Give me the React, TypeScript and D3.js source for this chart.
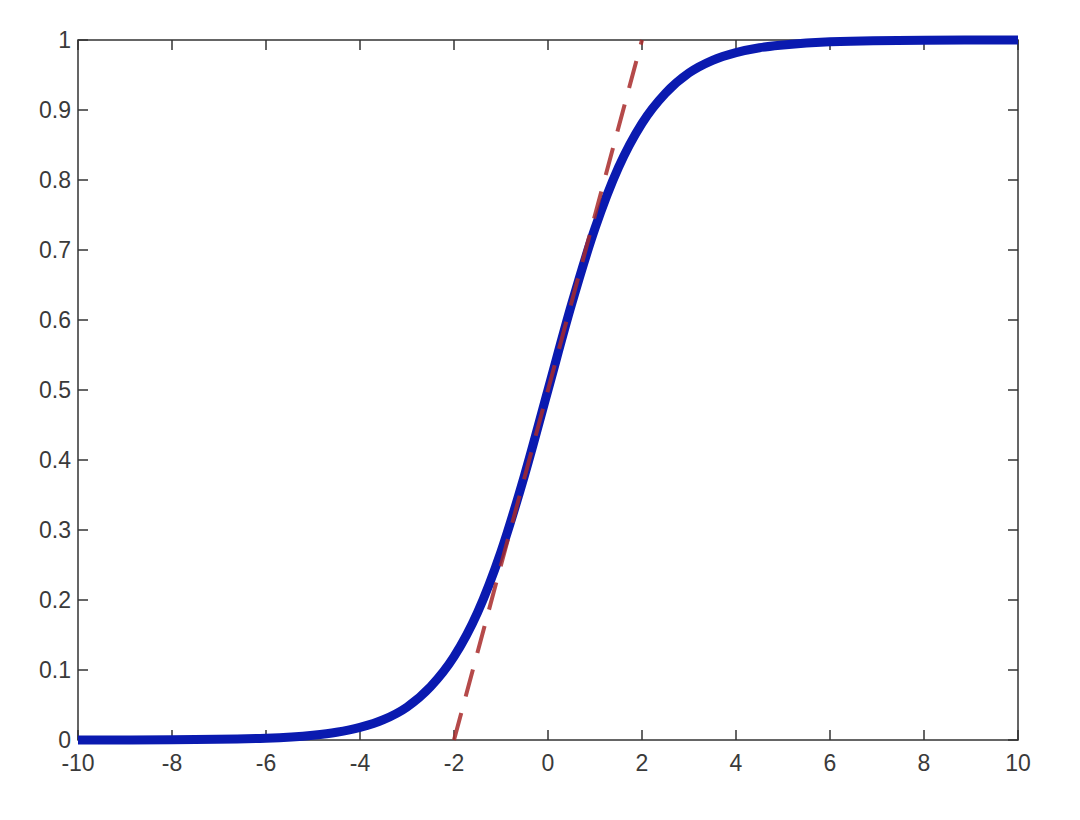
import React from "react";
import * as d3 from "d3";

const xTicks = [-10, -8, -6, -4, -2, 0, 2, 4, 6, 8, 10];
const yTicks = [0, 0.1, 0.2, 0.3, 0.4, 0.5, 0.6, 0.7, 0.8, 0.9, 1];

// Blue curve points
const curveX = [-10, -8, -6, -5, -4.5, -4, -3.5, -3, -2.5, -2, -1.5, -1, -0.5, 0, 0.5, 1, 1.5, 2, 2.5, 3, 3.5, 4, 4.5, 5, 6, 8, 10];
const curveY = [0.0, 0.0003, 0.0025, 0.0067, 0.011, 0.018, 0.029, 0.047, 0.076, 0.119, 0.182, 0.269, 0.378, 0.5, 0.622, 0.731, 0.818, 0.881, 0.924, 0.953, 0.971, 0.982, 0.989, 0.993, 0.9975, 0.9997, 1.0];

// Red dashed tangent line endpoints
const tangentX = [-2, 2];
const tangentY = [0, 1];

const W = 1080;
const H = 820;
const left = 78;
const right = 1018;
const top = 40;
const bottom = 740;

export default function App() {
  const x = d3.scaleLinear().domain([-10, 10]).range([left, right]);
  const y = d3.scaleLinear().domain([0, 1]).range([bottom, top]);

  const curvePts: [number, number][] = curveX.map((v, i) => [v, curveY[i]]);
  const line = d3
    .line<[number, number]>()
    .x((d) => x(d[0]))
    .y((d) => y(d[1]))
    .curve(d3.curveMonotoneX);

  const tanPts: [number, number][] = tangentX.map((v, i) => [v, tangentY[i]]);
  const tanLine = d3
    .line<[number, number]>()
    .x((d) => x(d[0]))
    .y((d) => y(d[1]));

  const axisColor = "#333";
  const textColor = "#3a3a3a";
  const tickLen = 10;
  const font = "'Liberation Sans', Arial, sans-serif";

  return (
    <svg
      width={W}
      height={H}
      style={{ position: "absolute", left: 0, top: 0, background: "#fff" }}
    >
      <rect x={0} y={0} width={W} height={H} fill="#fff" />
      {/* ticks */}
      {xTicks.map((t) => (
        <g key={"xt" + t}>
          <line x1={x(t)} x2={x(t)} y1={bottom} y2={bottom - tickLen} stroke={axisColor} strokeWidth={1.5} />
          <line x1={x(t)} x2={x(t)} y1={top} y2={top + tickLen} stroke={axisColor} strokeWidth={1.5} />
          <text
            x={x(t)}
            y={771}
            textAnchor="middle"
            fontFamily={font}
            fontSize={23}
            fill={textColor}
          >
            {String(t)}
          </text>
        </g>
      ))}
      {yTicks.map((t) => (
        <g key={"yt" + t}>
          <line x1={left} x2={left + tickLen} y1={y(t)} y2={y(t)} stroke={axisColor} strokeWidth={1.5} />
          <line x1={right} x2={right - tickLen} y1={y(t)} y2={y(t)} stroke={axisColor} strokeWidth={1.5} />
          <text
            x={71}
            y={y(t)}
            dy="0.36em"
            textAnchor="end"
            fontFamily={font}
            fontSize={23}
            fill={textColor}
          >
            {String(t)}
          </text>
        </g>
      ))}
      {/* box */}
      <rect
        x={left}
        y={top}
        width={right - left}
        height={bottom - top}
        fill="none"
        stroke={axisColor}
        strokeWidth={1.5}
      />
      {/* sigmoid */}
      <path
        d={line(curvePts) || ""}
        fill="none"
        stroke="#0a1ab0"
        strokeWidth={9}
        strokeLinejoin="round"
      />
      {/* tangent */}
      <path
        d={tanLine(tanPts) || ""}
        fill="none"
        stroke="#a82a2a"
        strokeOpacity={0.85}
        strokeWidth={4}
        strokeDasharray="28 17"
      />
    </svg>
  );
}
